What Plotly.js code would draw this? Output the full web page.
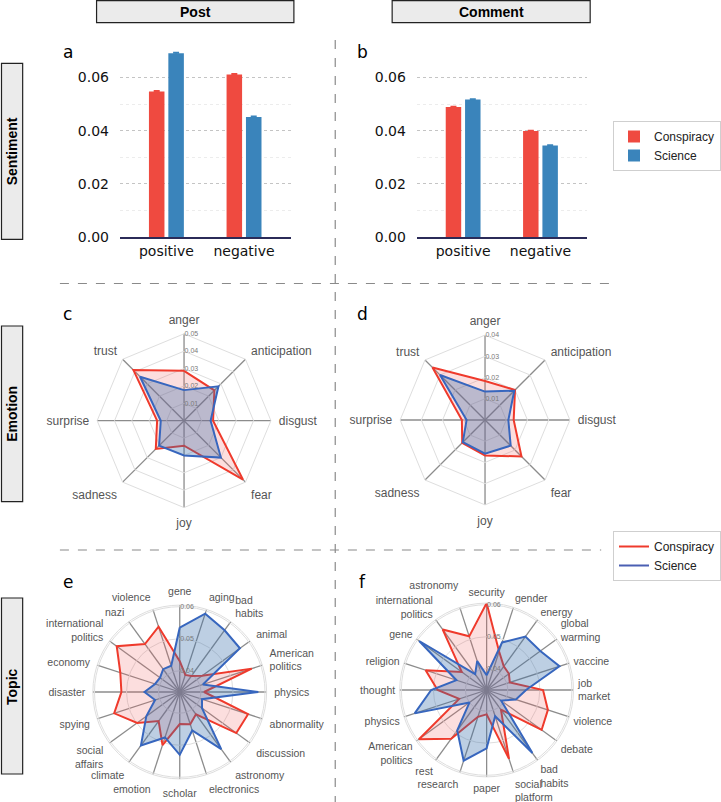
<!DOCTYPE html>
<html><head><meta charset="utf-8">
<script src="https://cdn.plot.ly/plotly-3.0.1.min.js"></script>
<style>html,body{margin:0;padding:0;background:#fff;}#chart{width:721px;height:802px;}</style>
</head><body><div id="chart"></div>
<script>
// ---------- data ----------
const sentimentCats = ['positive', 'negative'];
const postConspiracy = [0.0547, 0.0611];
const postScience = [0.0690, 0.0451];
const postConspiracyErr = [0.0003, 0.0003];
const postScienceErr = [0.0003, 0.0003];
const commentConspiracy = [0.0489, 0.0399];
const commentScience = [0.0517, 0.0344];
const commentConspiracyErr = [0.0002, 0.0002];
const commentScienceErr = [0.0002, 0.0002];

const emotionCats = ['anger', 'anticipation', 'disgust', 'fear', 'joy', 'sadness', 'surprise', 'trust'];
const emoPostConspiracy = [0.0287, 0.0247, 0.0167, 0.0480, 0.0144, 0.0230, 0.0155, 0.0412];
const emoPostScience = [0.0176, 0.0280, 0.0153, 0.0300, 0.0200, 0.0203, 0.0134, 0.0358];
const emoCommentConspiracy = [0.0184, 0.0200, 0.0135, 0.0243, 0.0167, 0.0152, 0.0109, 0.0350];
const emoCommentScience = [0.0134, 0.0195, 0.0110, 0.0171, 0.0159, 0.0148, 0.0087, 0.0300];

const topicPostCats = ['gene', 'aging', 'bad<br>habits', 'animal', 'American<br>politics', 'physics', 'abnormality',
  'discussion', 'astronomy', 'electronics', 'scholar', 'emotion', 'climate', 'social<br>affairs', 'spying',
  'disaster', 'economy', 'international<br>politics', 'nazi', 'violence'];
const topicPostConspiracy = [0.0430, 0.0390, 0.0396, 0.0420, 0.0570, 0.0410, 0.0558, 0.0552, 0.0420, 0.0440,
  0.0434, 0.0508, 0.0446, 0.0498, 0.0549, 0.0516, 0.0529, 0.0577, 0.0519, 0.0548];
const topicPostScience = [0.0535, 0.0591, 0.0572, 0.0566, 0.0410, 0.0579, 0.0407, 0.0420, 0.0554, 0.0460,
  0.0530, 0.0483, 0.0540, 0.0463, 0.0415, 0.0444, 0.0415, 0.0410, 0.0422, 0.0420];

const topicCommentCats = ['security', 'gender', 'energy', 'global<br>warming', 'vaccine', 'job<br>market', 'violence',
  'debate', 'bad<br>habits', 'social<br>platform', 'paper', 'research', 'rest', 'American<br>politics', 'physics',
  'thought', 'religion', 'gene', 'international<br>politics', 'astronomy'];
const topicCommentConspiracy = [0.0605, 0.0460, 0.0425, 0.0420, 0.0410, 0.0510, 0.0535, 0.0546, 0.0410, 0.0560,
  0.0410, 0.0422, 0.0522, 0.0595, 0.0424, 0.0487, 0.0534, 0.0430, 0.0567, 0.0510];
const topicCommentScience = [0.0380, 0.0490, 0.0540, 0.0541, 0.0573, 0.0457, 0.0430, 0.0390, 0.0577, 0.0420,
  0.0516, 0.0566, 0.0490, 0.0400, 0.0570, 0.0507, 0.0433, 0.0594, 0.0395, 0.0429];

const emoPostTicks = [0.01, 0.02, 0.03, 0.04, 0.05];
const emoCommentTicks = [0.01, 0.02, 0.03, 0.04];
const topicTicks = [0.04, 0.05, 0.06];

const seriesNames = ['Conspiracy', 'Science'];
const columnTitles = ['Post', 'Comment'];
const rowTitles = ['Sentiment', 'Emotion', 'Topic'];
const panelLetters = ['a', 'b', 'c', 'd', 'e', 'f'];

// ---------- style ----------
const W = 721, H = 802;
const fx = p => p / W;
const fy = p => 1 - p / H;
const RED_BAR = '#ef4a40', BLUE_BAR = '#3a84bb';
const RED_LINE = '#ef3a2c', BLUE_LINE = '#3766be';
const RED_FILL = 'rgba(240,90,90,0.20)', BLUE_FILL = 'rgba(55,110,170,0.33)';
const SANS = 'Liberation Sans, Arial, sans-serif';
const DJV = 'DejaVu Sans, sans-serif';

function close(a) { return a.concat([a[0]]); }

const traces = [];
// bars
function barTrace(name, y, err, color, xa, ya, showlegend) {
  return {
    type: 'bar', name: name, x: sentimentCats, y: y, xaxis: xa, yaxis: ya,
    marker: { color: color, line: { width: 0 } },
    error_y: { type: 'data', array: err, visible: true, color: color, thickness: 1.5, width: 3 },
    showlegend: showlegend, legend: 'legend', hoverinfo: 'skip'
  };
}
traces.push(barTrace(seriesNames[0], postConspiracy, postConspiracyErr, RED_BAR, 'x', 'y', true));
traces.push(barTrace(seriesNames[1], postScience, postScienceErr, BLUE_BAR, 'x', 'y', true));
traces.push(barTrace(seriesNames[0], commentConspiracy, commentConspiracyErr, RED_BAR, 'x2', 'y2', false));
traces.push(barTrace(seriesNames[1], commentScience, commentScienceErr, BLUE_BAR, 'x2', 'y2', false));

function radar(cats, vals, subplot, lineColor, fillColor, name) {
  return {
    type: 'scatterpolar', subplot: subplot, name: name,
    r: close(vals), theta: close(cats), mode: 'lines', fill: 'toself',
    fillcolor: fillColor, line: { color: lineColor, width: 2 },
    showlegend: false, hoverinfo: 'skip'
  };
}
traces.push(radar(emotionCats, emoPostConspiracy, 'polar', RED_LINE, RED_FILL, seriesNames[0]));
traces.push(radar(emotionCats, emoPostScience, 'polar', BLUE_LINE, BLUE_FILL, seriesNames[1]));
traces.push(radar(emotionCats, emoCommentConspiracy, 'polar2', RED_LINE, RED_FILL, seriesNames[0]));
traces.push(radar(emotionCats, emoCommentScience, 'polar2', BLUE_LINE, BLUE_FILL, seriesNames[1]));
traces.push(radar(topicPostCats, topicPostConspiracy, 'polar3', RED_LINE, RED_FILL, seriesNames[0]));
traces.push(radar(topicPostCats, topicPostScience, 'polar3', BLUE_LINE, BLUE_FILL, seriesNames[1]));
traces.push(radar(topicCommentCats, topicCommentConspiracy, 'polar4', RED_LINE, RED_FILL, seriesNames[0]));
traces.push(radar(topicCommentCats, topicCommentScience, 'polar4', BLUE_LINE, BLUE_FILL, seriesNames[1]));
// legend-only line entries (single point at origin: nothing drawn)
traces.push({ type: 'scatterpolar', subplot: 'polar', r: [0], theta: [emotionCats[0]], mode: 'lines', name: seriesNames[0],
  line: { color: RED_LINE, width: 2 }, legend: 'legend2', showlegend: true, hoverinfo: 'skip' });
traces.push({ type: 'scatterpolar', subplot: 'polar', r: [0], theta: [emotionCats[0]], mode: 'lines', name: seriesNames[1],
  line: { color: '#4a5fb3', width: 2 }, legend: 'legend2', showlegend: true, hoverinfo: 'skip' });

function polarCfg(cx, cy, R, range, ticks, linear, fsize, pad, cats, liftLabels) {
  const ang = {
    rotation: 90, direction: 'clockwise', gridcolor: '#8c8c8c', gridwidth: 1.3,
    showline: true, linecolor: '#dedede', linewidth: 1, ticks: 'outside', ticklen: pad,
    tickcolor: 'rgba(0,0,0,0)',
    tickfont: { size: fsize, color: '#555', family: SANS }
  };
  if (cats && liftLabels) {
    // an extra blank line under a label lifts it one line (keeps neighbouring labels apart)
    ang.tickmode = 'array';
    ang.tickvals = cats;
    ang.ticktext = cats.map(c => liftLabels.indexOf(c) >= 0 ? c + '<br>\u00A0' : c);
  }
  return {
    domain: { x: [fx(cx - R), fx(cx + R)], y: [fy(cy + R), fy(cy - R)] },
    bgcolor: 'rgba(0,0,0,0)',
    gridshape: linear ? 'linear' : 'circular',
    radialaxis: {
      range: range, tickvals: ticks, ticktext: ticks.map(v => v.toFixed(2)), angle: 90, tickangle: 90,
      showline: false, ticks: '', gridcolor: '#dedede', gridwidth: 1,
      tickfont: { size: 7, color: '#7a7a7a', family: SANS }, side: 'clockwise'
    },
    angularaxis: ang
  };
}

const shapes = [];
const annotations = [];
function box(x0, y0, x1, y1) {
  shapes.push({ type: 'rect', xref: 'paper', yref: 'paper', x0: fx(x0), x1: fx(x1), y0: fy(y1), y1: fy(y0),
    fillcolor: '#ebebeb', line: { color: '#222', width: 1.2 }, layer: 'below' });
}
function txt(t, x, y, opts) {
  annotations.push(Object.assign({ text: t, x: fx(x), y: fy(y), xref: 'paper', yref: 'paper', showarrow: false,
    xanchor: 'center', yanchor: 'middle' }, opts || {}));
}
// column headers
box(96.7, 0.7, 294.3, 22.7); txt(columnTitles[0], 195.5, 12, { font: { family: SANS, size: 14, color: '#000', weight: 'bold' } });
box(392.7, 0.7, 591, 22.7); txt(columnTitles[1], 492, 12, { font: { family: SANS, size: 14, color: '#000', weight: 'bold' } });
// row headers
const rowBoxes = [[63.3, 239.3], [326, 501.7], [598, 774]];
rowBoxes.forEach((b, i) => {
  box(1.5, b[0], 22.7, b[1]);
  txt(rowTitles[i], 12, (b[0] + b[1]) / 2, { textangle: -90, font: { family: SANS, size: 14, color: '#000', weight: 'bold' } });
});
// panel letters
const letterPos = [[68.3, 51.7], [362.7, 51.7], [67.7, 314.3], [363, 314.3], [68.3, 581.7], [363, 581.7]];
letterPos.forEach((p, i) => txt(panelLetters[i], p[0], p[1], { font: { family: DJV, size: 17, color: '#000' } }));
// dashed separators
const dashLine = { color: '#8a8a8a', width: 1.2, dash: 'dash' };
shapes.push({ type: 'line', xref: 'paper', yref: 'paper', x0: fx(60), x1: fx(612), y0: fy(283.5), y1: fy(283.5), line: dashLine });
shapes.push({ type: 'line', xref: 'paper', yref: 'paper', x0: fx(60), x1: fx(602), y0: fy(550), y1: fy(550), line: dashLine });
shapes.push({ type: 'line', xref: 'paper', yref: 'paper', x0: fx(335.7), x1: fx(335.7), y0: fy(40), y1: fy(802), line: dashLine });

function yax(anchor) {
  return {
    domain: [fy(237.3), fy(50.7)], anchor: anchor, range: [0, 0.07], dtick: 0.02, tickformat: '.2f',
    showgrid: true, gridcolor: '#c4c4c4', griddash: 'dot', gridwidth: 1,
    minor: { dtick: 0.01, showgrid: true, gridcolor: '#ececec', gridwidth: 1 },
    zeroline: false, ticks: 'outside', ticklen: 7, tickcolor: 'rgba(0,0,0,0)',
    tickfont: { family: DJV, size: 14, color: '#111' }, fixedrange: true
  };
}
function xax(anchor, x0, x1) {
  return {
    domain: [fx(x0), fx(x1)], anchor: anchor, type: 'category', range: [-0.6, 1.6],
    showline: true, linecolor: '#2b2b58', linewidth: 1.5, ticks: '', showgrid: false, zeroline: false,
    tickfont: { family: DJV, size: 14, color: '#111' }, fixedrange: true
  };
}

const layout = {
  width: W, height: H, autosize: false, margin: { l: 0, r: 0, t: 0, b: 0 },
  paper_bgcolor: '#fff', plot_bgcolor: 'rgba(0,0,0,0)',
  font: { family: SANS },
  barmode: 'group', bargap: 0.5, bargroupgap: 0.2,
  xaxis: xax('y', 120, 291), yaxis: yax('x'),
  xaxis2: xax('y2', 417.3, 587.7), yaxis2: yax('x2'),
  polar: polarCfg(184.3, 420.7, 87, [0, 0.05], emoPostTicks, true, 12, 5),
  polar2: polarCfg(485.7, 420, 85, [0, 0.04], emoCommentTicks, true, 12, 5),
  polar3: polarCfg(180, 692, 87, [0.0334, 0.0605], topicTicks, false, 10.5, 5),
  polar4: polarCfg(487.3, 690, 87, [0.0334, 0.0605], topicTicks, false, 10.5, 2, topicCommentCats, ['astronomy']),
  legend: { x: fx(614), y: fy(121), xanchor: 'left', yanchor: 'top', bordercolor: '#cfcfcf', borderwidth: 1,
    bgcolor: '#fff', font: { size: 12, color: '#222', family: SANS }, tracegroupgap: 0, itemwidth: 30 },
  legend2: { x: fx(614), y: fy(531), xanchor: 'left', yanchor: 'top', bordercolor: '#cfcfcf', borderwidth: 1,
    bgcolor: '#fff', font: { size: 12, color: '#222', family: SANS }, tracegroupgap: 0, itemwidth: 30 },
  shapes: shapes, annotations: annotations, showlegend: true
};

Plotly.newPlot('chart', traces, layout, { displayModeBar: false, staticPlot: true });
</script>
</body></html>
